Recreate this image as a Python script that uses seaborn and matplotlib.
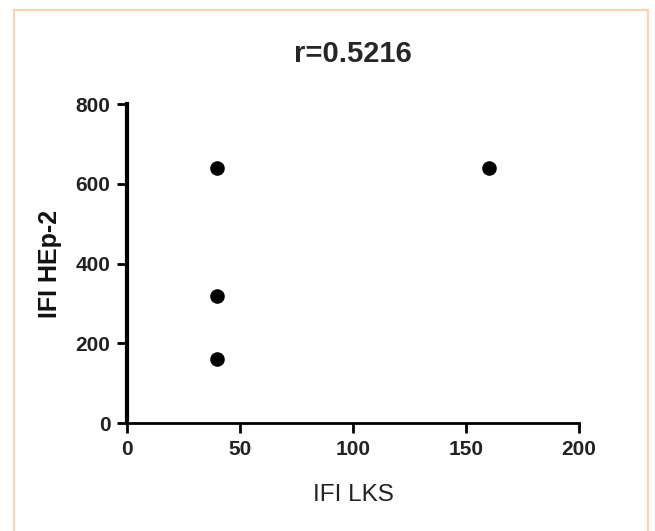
import numpy as np
import pandas as pd
import seaborn as sns
import matplotlib
matplotlib.use('Agg')
import matplotlib.pyplot as plt
from matplotlib.patches import Rectangle

# IFI titres
ifi_lks = [40, 40, 40, 160]
ifi_hep2 = [640, 320, 160, 640]
x_ticks = [0, 50, 100, 150, 200]
y_ticks = [0, 200, 400, 600, 800]
title = 'r=0.5216'

df = pd.DataFrame({'IFI LKS': ifi_lks, 'IFI HEp-2': ifi_hep2})

sns.set_style('ticks')
plt.rcParams['font.family'] = ['Liberation Sans', 'DejaVu Sans']

fig = plt.figure(figsize=(6.55, 5.31), dpi=100)
ax = fig.add_axes([0.194, 0.203, 0.690, 0.601])

sns.scatterplot(data=df, x='IFI LKS', y='IFI HEp-2', ax=ax,
                color='black', s=110, edgecolor='black', linewidth=0, clip_on=False)

ax.set_xlim(0, 200)
ax.set_ylim(0, 800)
ax.set_xticks(x_ticks)
ax.set_yticks(y_ticks)
ax.tick_params(axis='both', length=7, width=2, color='black',
               labelsize=15, labelcolor='#222222', pad=5)
for lbl in ax.get_xticklabels() + ax.get_yticklabels():
    lbl.set_fontweight('bold')
sns.despine(ax=ax)
ax.spines['left'].set_linewidth(3)
ax.spines['bottom'].set_linewidth(2)
ax.spines['left'].set_color('black')
ax.spines['bottom'].set_color('black')

ax.set_xlabel('IFI LKS', fontsize=17.5, color='#222222')
ax.set_ylabel('IFI HEp-2', fontsize=18, fontweight='bold', color='#111111')
ax.xaxis.set_label_coords(0.5, -0.19)
ax.yaxis.set_label_coords(-0.145, 0.5)
ax.set_title(title, fontsize=21, fontweight='bold', y=1.107)

# peach frame around the figure
fig.patches.append(Rectangle((0.021, -0.05), 0.968, 1.031, transform=fig.transFigure,
                             fill=False, edgecolor='#FAD2B4', linewidth=1.6))

fig.savefig('out.png', dpi=100)
